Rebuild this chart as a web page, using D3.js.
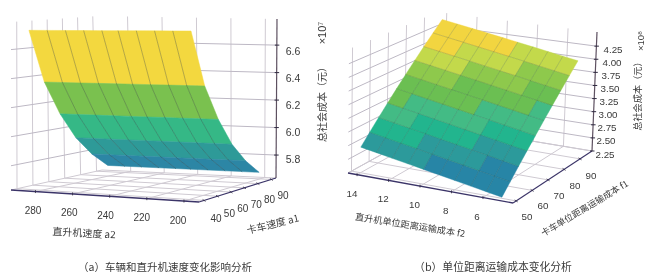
<!DOCTYPE html>
<html><head><meta charset="utf-8">
<script src="https://cdn.jsdelivr.net/npm/d3@7/dist/d3.min.js"></script>
<style>html,body{margin:0;padding:0;background:#fff}svg{display:block;filter:blur(.3px)}
text{font-family:"Liberation Sans","Noto Sans CJK SC",sans-serif;fill:#3a3a3a}
.cjk{font-family:"Noto Sans CJK SC",sans-serif}</style></head><body>
<svg id="c" width="655" height="280"></svg>
<script>
// ---- data, panel (a)
const truckSpeeds = [40,50,60,70,80,90];
const heliSpeeds = [280,271,262,253,244,236,227,218,209,200];
const costA = [6.73,6.36,6.12,5.93,5.79,5.68];          // x10^7, one value per truck speed
const bandsA = [0,1,2,3,4];                             // colour band of each row
const colorsA = ["#f3d83f","#7ac14f","#35b886","#2e9a98","#2c86a5"];
const ticksA1 = [40,50,60,70,80,90];
const ticksA2 = [280,260,240,220,200];
const ticksZA = [5.8,6.0,6.2,6.4,6.6];
// ---- data, panel (b)
const truckCosts = [50,55,60,65,70,75,80,85,90,95];
const heliCosts = [14,13,12,11,10,9,8,7,6,5];
const costB = [ // x10^8, rows f1=50..95, columns f2=14..5
 [2.72,2.67,2.62,2.57,2.52,2.47,2.42,2.37,2.32,2.27],
 [2.91,2.86,2.81,2.76,2.71,2.66,2.61,2.56,2.51,2.46],
 [3.10,3.05,3.00,2.95,2.90,2.85,2.80,2.75,2.70,2.65],
 [3.29,3.24,3.19,3.14,3.09,3.04,2.99,2.94,2.89,2.84],
 [3.48,3.43,3.38,3.33,3.28,3.23,3.18,3.13,3.08,3.03],
 [3.67,3.62,3.57,3.52,3.47,3.42,3.37,3.32,3.27,3.22],
 [3.86,3.81,3.76,3.71,3.66,3.61,3.56,3.51,3.46,3.41],
 [4.05,4.00,3.95,3.90,3.85,3.80,3.75,3.70,3.65,3.60],
 [4.24,4.19,4.14,4.09,4.04,3.99,3.94,3.89,3.84,3.79],
 [4.43,4.38,4.33,4.28,4.23,4.18,4.13,4.08,4.03,3.98]];
const levelsB = [ // colour level of each cell, front row first
 [1,1,1,1,0,0,0,0,0],
 [2,2,2,1,1,1,1,0,0],
 [3,3,2,2,2,2,1,1,1],
 [4,3,3,3,3,3,2,2,2],
 [4,4,4,4,4,3,3,3,3],
 [5,5,5,4,4,4,4,4,3],
 [6,6,6,5,5,5,5,4,4],
 [7,7,6,6,6,6,5,5,5],
 [7,7,7,7,7,6,6,6,6]];
const colorsB = ["#2785a6","#2c9a9b","#22b58e","#43bb85","#6bbf52","#8ec94c","#c3d94b","#f2d540"];
const ticksF1 = [50,60,70,80,90];
const ticksF2 = [14,12,10,8,6];
const ticksZB = [2.25,2.5,2.75,3,3.25,3.5,3.75,4,4.25];

const svg = d3.select("#c");

function makeProject(box){
  const lerp=(a,b,t)=>a+(b-a)*t;
  return (u,v,w)=>{
    const at=(k)=>{
      const f=lerp(box.fl[k],box.fr[k],u), b=lerp(box.bl[k],box.br[k],u);
      const ft=lerp(box.flT[k],box.frT[k],u), bt=lerp(box.blT[k],box.brT[k],u);
      return lerp(lerp(f,b,v),lerp(ft,bt,v),w);
    };
    return [at(0),at(1)];
  };
}
const line=d3.line();
const GRID="#cfcad2";
function poly(g,pts,stroke,sw){g.append("path").attr("d",line(pts)).attr("fill","none").attr("stroke",stroke).attr("stroke-width",sw);}

function frame(g,P,uF,uB,vS,wS,zT,t1,t2,axisColor){
  t1.forEach(t=>{ const v=vS(t);
    poly(g,[P(0,v,0),P(0,v,1)],GRID,1);
    poly(g,[P(0,v,0),P(1,v,0)],GRID,1);
  });
  t2.forEach(t=>{
    poly(g,[P(uB(t),1,0),P(uB(t),1,1)],GRID,1);
    poly(g,[P(uF(t),0,0),P(uB(t),1,0)],GRID,1);
  });
  zT.forEach(z=>{ const w=wS(z);
    poly(g,[P(0,0,w),P(0,1,w),P(1,1,w)],"#bdb8c4",1);
  });
  poly(g,[P(0,1,0),P(1,1,0)],GRID,1);
  poly(g,[P(0,0,0),P(0,1,0)],GRID,1);
  poly(g,[P(0,0,0),P(1,0,0)],axisColor,1.3);
  poly(g,[P(1,0,0),P(1,1,0)],axisColor,1.1);
  poly(g,[P(1,1,0),P(1,1,1)],"#5d5060",1.2);
  zT.forEach(z=>{ const p=P(1,1,wS(z)); poly(g,[[p[0]-2,p[1]],[p[0]+2.5,p[1]]],"#2f2a40",1); });
  t1.forEach(t=>{ const p=P(1,vS(t),0); poly(g,[[p[0]-1.5,p[1]-1],[p[0]+1.5,p[1]+1]],"#2f2a40",.8); });
  t2.forEach(t=>{ const p=P(uF(t),0,0); poly(g,[[p[0],p[1]-1.5],[p[0],p[1]+1.5]],"#2f2a40",.8); });
}
function label(x,y,txt,opt={}){
  const t=svg.append("text").attr("text-anchor","middle").attr("dominant-baseline","middle")
    .attr("font-size",opt.size||10).text(txt);
  if(opt.cjk) t.attr("class","cjk");
  t.attr("transform",`translate(${x},${y}) rotate(${opt.rot||0})`);
  return t;
}

// ---------- panel (a)
{
  const P=makeProject({fl:[11,190],fr:[199,202],br:[276,178],bl:[102,170],
                       flT:[11,22],frT:[199,22],brT:[277,19],blT:[98,16]});
  const uS=d3.scaleLinear().domain([280,200]).range([.065,.93]);
  const uF=d3.scaleLinear().domain([280,200]).range([.13,.92]);
  const uB=d3.scaleLinear().domain([280,200]).range([.165,.935]);
  const vS=d3.scaleLinear().domain([40,90]).range([.066,.94]);
  const wS=d3.scaleLinear().domain([5.633,6.79]).range([0,1]);
  const g=svg.append("g");
  frame(g,P,uF,uB,vS,wS,ticksZA,ticksA1,ticksA2,"#3b3468");
  const color=d3.scaleOrdinal().domain(bandsA).range(colorsA);
  const pt=(i,j)=>P(uS(heliSpeeds[j]),vS(truckSpeeds[i]),wS(costA[i]));
  bandsA.forEach((b,i)=>{
    d3.range(heliSpeeds.length-1).forEach(j=>{
      g.append("path").attr("d",line([pt(i,j),pt(i,j+1),pt(i+1,j+1),pt(i+1,j)])+"Z")
       .attr("fill",color(b)).attr("stroke",color(b)).attr("stroke-width",.5);
    });
  });
  heliSpeeds.forEach((h,j)=>{
    if(j===0||j===heliSpeeds.length-1) return;
    poly(g,truckSpeeds.map((t,i)=>pt(i,j)),"rgba(40,50,50,.45)",.7);
  });
  const zY=d3.scaleLinear().domain([5.8,6.6]).range([160,52]);
  ticksZA.forEach(z=>label(293,zY(z),d3.format(".1f")(z),{size:10.5}));
  const ax=d3.scaleLinear().domain([40,90]).range([216,283]), ay=d3.scaleLinear().domain([40,90]).range([219,196]);
  ticksA1.forEach(t=>label(ax(t),ay(t),t));
  const bx=d3.scaleLinear().domain([280,200]).range([33,178]), by=d3.scaleLinear().domain([280,200]).range([211,221]);
  ticksA2.forEach(t=>label(bx(t),by(t),t));
  label(84,234,"直升机速度  a2",{size:10,cjk:1,rot:3});
  label(273,225,"卡车速度  a1",{size:10,cjk:1,rot:-14});
  label(323,102,"总社会成本（元）",{size:10,cjk:1,rot:-90});
  label(323,33,"×10⁷",{size:11,rot:-90});
  label(165,268,"（a）车辆和直升机速度变化影响分析",{size:10.5,cjk:1});
}
// ---------- panel (b)
{
  const P=makeProject({fl:[348,173],fr:[513,203],br:[592,151],bl:[435,125],
                       flT:[349,49],frT:[516,79],brT:[597,32],blT:[438,12]});
  const uS=d3.scaleLinear().domain([14,6]).range([.055,.818]);
  const vS=d3.scaleLinear().domain([50,95]).range([.04,.95]);
  const wS=d3.scaleLinear().domain([2.25,4.52]).range([0,1]);
  const g=svg.append("g");
  frame(g,P,uS,uS,vS,wS,ticksZB,ticksF1,ticksF2,"#3b3468");
  const color=d3.scaleOrdinal().domain(d3.range(colorsB.length)).range(colorsB);
  const pt=(i,j)=>P(uS(heliCosts[j]),vS(truckCosts[i]),wS(costB[i][j]));
  levelsB.forEach((row,i)=>row.forEach((lv,j)=>{
    g.append("path").attr("d",line([pt(i,j),pt(i,j+1),pt(i+1,j+1),pt(i+1,j)])+"Z")
     .attr("fill",color(lv)).attr("stroke",color(lv)).attr("stroke-width",.4);
  }));
  truckCosts.forEach((t,i)=>{ if(i>0&&i<truckCosts.length-1) poly(g,heliCosts.map((h,j)=>pt(i,j)),"rgba(30,60,50,.28)",.7); });
  heliCosts.forEach((h,j)=>{ if(j>0&&j<heliCosts.length-1) poly(g,truckCosts.map((t,i)=>pt(i,j)),"rgba(30,60,50,.28)",.7); });
  const zX=d3.scaleLinear().domain([2.25,4.25]).range([605,613]), zY=d3.scaleLinear().domain([2.25,4.25]).range([155,50]);
  ticksZB.forEach(z=>label(zX(z),zY(z),d3.format(".2f")(z),{size:9.8}));
  const ax=d3.scaleLinear().domain([50,90]).range([527,591]), ay=d3.scaleLinear().domain([50,90]).range([217,176]);
  ticksF1.forEach(t=>label(ax(t),ay(t),t,{size:9.8}));
  const bx=d3.scaleLinear().domain([14,6]).range([352,477]), by=d3.scaleLinear().domain([14,6]).range([194,217]);
  ticksF2.forEach(t=>label(bx(t),by(t),t,{size:9.8}));
  label(410,226,"直升机单位距离运输成本  f2",{size:9.2,cjk:1,rot:9});
  label(585,209,"卡车单位距离运输成本  f1",{size:9,cjk:1,rot:-31});
  label(638,94,"总社会成本（元）",{size:9.2,cjk:1,rot:-90});
  label(641,41,"×10⁸",{size:9.5,rot:-90});
  label(493,268,"（b）单位距离运输成本变化分析",{size:10.8,cjk:1});
}
</script></body></html>
